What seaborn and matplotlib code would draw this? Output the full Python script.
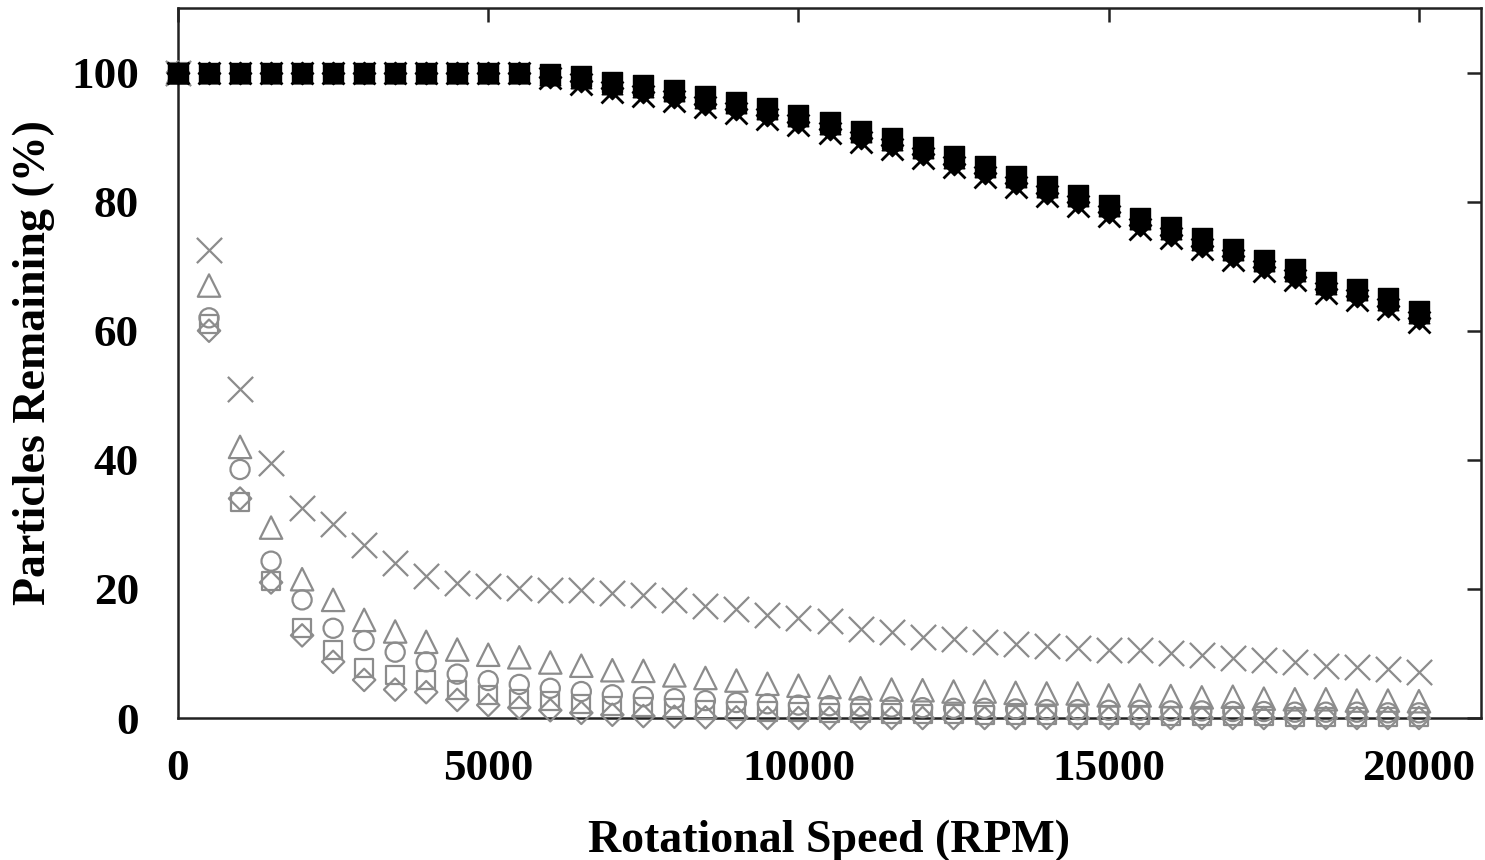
import numpy as np
import pandas as pd
import matplotlib
matplotlib.use("Agg")
import matplotlib.pyplot as plt
import seaborn as sns

# ---------------- data ----------------
rpm = list(range(0, 20001, 500))

# low-density particles (gray, hollow markers)
gray_cross = [100, 72.5, 51, 39.5, 32.5, 30, 26.8, 24, 22, 20.9, 20.5, 20.1, 19.8, 19.8,
              19.3, 19, 18.3, 17.3, 16.9, 16, 15.5, 15.1, 13.8, 13.3, 12.6, 12.2, 11.8,
              11.5, 11.1, 10.9, 10.6, 10.5, 10.1, 9.7, 9.3, 9.0, 8.6, 8.1, 7.9, 7.6, 7.2]
gray_triangle = [100, 67, 42, 29.5, 21.5, 18.3, 15.2, 13.4, 11.8, 10.6, 9.8, 9.4, 8.6, 8.1,
                 7.4, 7.3, 6.6, 6.2, 5.8, 5.3, 5.0, 4.8, 4.6, 4.4, 4.3, 4.1, 4.1, 3.9, 3.8,
                 3.8, 3.5, 3.5, 3.4, 3.2, 3.3, 3.0, 2.9, 2.9, 2.7, 2.7, 2.6]
gray_circle = [100, 62, 38.5, 24.3, 18.3, 13.9, 12, 10.2, 8.7, 6.8, 5.8, 5.2, 4.6, 4.1, 3.6,
               3.3, 3.0, 2.7, 2.4, 2.2, 2.0, 1.9, 1.8, 1.7, 1.6, 1.5, 1.5, 1.4, 1.3, 1.3,
               1.2, 1.2, 1.1, 1.1, 1.0, 1.0, 0.9, 0.9, 0.9, 0.8, 0.8]
gray_square = [100, 61, 33.5, 21.2, 13.9, 10.5, 7.8, 6.6, 5.9, 4.3, 3.6, 3.0, 2.6, 2.2, 1.9,
               1.7, 1.5, 1.3, 1.1, 1.0, 0.9, 0.8, 0.8, 0.7, 0.6, 0.6, 0.5, 0.5, 0.5, 0.4,
               0.4, 0.4, 0.3, 0.3, 0.3, 0.3, 0.2, 0.2, 0.2, 0.2, 0.2]
gray_diamond = [100, 60, 34, 21, 12.8, 8.7, 5.9, 4.4, 4.0, 2.8, 2.0, 1.6, 1.2, 0.8, 0.5,
                0.3, 0.2, 0.1, 0.1, 0.0, 0.0, 0.0, 0.0, 0.0, 0.0, 0.0, 0.0, 0.0, 0.0, 0.0,
                0.0, 0.0, 0.0, 0.0, 0.0, 0.0, 0.0, 0.0, 0.0, 0.0, 0.0]

# high-density particles (black, filled markers)
black_cross = [100, 100, 100, 100, 100, 100, 100, 100, 100, 100, 100, 100, 99.1, 98.3,
               97.0, 96.4, 95.6, 94.6, 93.8, 92.8, 91.8, 90.6, 89.3, 88.1, 86.8, 85.3,
               83.8, 82.3, 80.8, 79.3, 77.8, 75.8, 74.3, 72.6, 71.0, 69.3, 67.8, 65.8,
               64.8, 63.3, 61.3]
black_triangle = [100, 100, 100, 100, 100, 100, 100, 100, 100, 100, 100, 100, 99.6, 99.2,
                  98.3, 97.8, 97.1, 96.1, 95.3, 94.3, 93.3, 92.1, 90.8, 89.6, 88.3, 86.8,
                  85.3, 83.8, 82.3, 80.8, 79.3, 77.3, 75.8, 74.1, 72.5, 70.8, 69.3, 67.3,
                  66.3, 64.8, 62.8]
black_circle = [100, 100, 100, 100, 100, 100, 100, 100, 100, 100, 100, 100, 99.5, 99.0,
                98.0, 97.5, 96.8, 95.8, 95.0, 94.0, 93.0, 91.8, 90.5, 89.3, 88.0, 86.5,
                85.0, 83.5, 82.0, 80.5, 79.0, 77.0, 75.5, 73.8, 72.2, 70.5, 69.0, 67.0,
                66.0, 64.5, 62.5]
black_square = [100, 100, 100, 100, 100, 100, 100, 100, 100, 100, 100, 100, 99.8, 99.4,
                98.5, 98.0, 97.3, 96.3, 95.5, 94.5, 93.5, 92.3, 91.0, 89.8, 88.5, 87.0,
                85.5, 84.0, 82.5, 81.0, 79.5, 77.5, 76.0, 74.3, 72.7, 71.0, 69.5, 67.5,
                66.5, 65.0, 63.0]
black_diamond = [100, 100, 100, 100, 100, 100, 100, 100, 100, 100, 100, 100, 99.3, 98.7,
                 97.6, 97.0, 96.2, 95.2, 94.4, 93.4, 92.4, 91.2, 89.9, 88.7, 87.4, 85.9,
                 84.4, 82.9, 81.4, 79.9, 78.4, 76.4, 74.9, 73.2, 71.6, 69.9, 68.4, 66.4,
                 65.4, 63.9, 61.9]

xticks = [0, 5000, 10000, 15000, 20000]
yticks = [0, 20, 40, 60, 80, 100]

# ---------------- style ----------------
sns.set_style("white")
plt.rcParams["font.family"] = ["Liberation Serif", "DejaVu Serif"]
plt.rcParams["font.weight"] = "bold"
plt.rcParams["text.color"] = "black"
plt.rcParams["axes.labelcolor"] = "black"
plt.rcParams["xtick.color"] = "black"
plt.rcParams["ytick.color"] = "black"

GRAY = "#8c8c8c"
BLACK = "#000000"

fig = plt.figure(figsize=(14.85, 8.6), dpi=100)
ax = fig.add_axes([178 / 1485, 142 / 860, (1481 - 178) / 1485, (718 - 8) / 860])

gray_series = [
    (gray_cross, "x", 330),
    (gray_triangle, "^", 260),
    (gray_circle, "o", 190),
    (gray_square, "s", 170),
    (gray_diamond, "D", 130),
]
for vals, mk, sz in gray_series:
    df = pd.DataFrame({"rpm": rpm, "pct": vals})
    if mk == "x":
        sns.scatterplot(data=df, x="rpm", y="pct", ax=ax, marker=mk, s=sz,
                        color=GRAY, edgecolor=None, linewidth=1.6, clip_on=False, zorder=3)
    else:
        sns.scatterplot(data=df, x="rpm", y="pct", ax=ax, marker=mk, s=sz,
                        facecolors="none", edgecolors=GRAY, linewidth=1.6,
                        clip_on=False, zorder=3)

black_series = [
    (black_cross, "x", 250),
    (black_triangle, "^", 220),
    (black_circle, "o", 180),
    (black_diamond, "D", 130),
    (black_square, "s", 210),
]
for vals, mk, sz in black_series:
    df = pd.DataFrame({"rpm": rpm, "pct": vals})
    if mk == "x":
        sns.scatterplot(data=df, x="rpm", y="pct", ax=ax, marker=mk, s=sz,
                        color=BLACK, edgecolor=None, linewidth=2.0, clip_on=False, zorder=4)
    else:
        sns.scatterplot(data=df, x="rpm", y="pct", ax=ax, marker=mk, s=sz,
                        facecolors=BLACK, edgecolors=BLACK, linewidth=1.0,
                        clip_on=False, zorder=4)

ax.set_xlim(0, 21000)
ax.set_ylim(0, 110)
ax.set_xticks(xticks)
ax.set_yticks(yticks)
ax.set_xticklabels([str(t) for t in xticks])
ax.set_yticklabels([str(t) for t in yticks])

ax.tick_params(axis="both", which="major", direction="in", length=10, width=1.8,
               color="#222222", labelcolor="black", labelsize=32.5, top=True, right=True)
ax.tick_params(axis="y", pad=28)
ax.tick_params(axis="x", pad=22)
for lab in ax.get_xticklabels() + ax.get_yticklabels():
    lab.set_fontweight("bold")

for sp in ax.spines.values():
    sp.set_visible(True)
    sp.set_color("#222222")
    sp.set_linewidth(1.8)

ax.set_xlabel("Rotational Speed (RPM)", fontsize=33, fontweight="bold", labelpad=22,
              color="black")
ax.set_ylabel("Particles Remaining (%)", fontsize=33, fontweight="bold", labelpad=12,
              color="black")
ax.grid(False)

fig.savefig("out.png", dpi=100)
